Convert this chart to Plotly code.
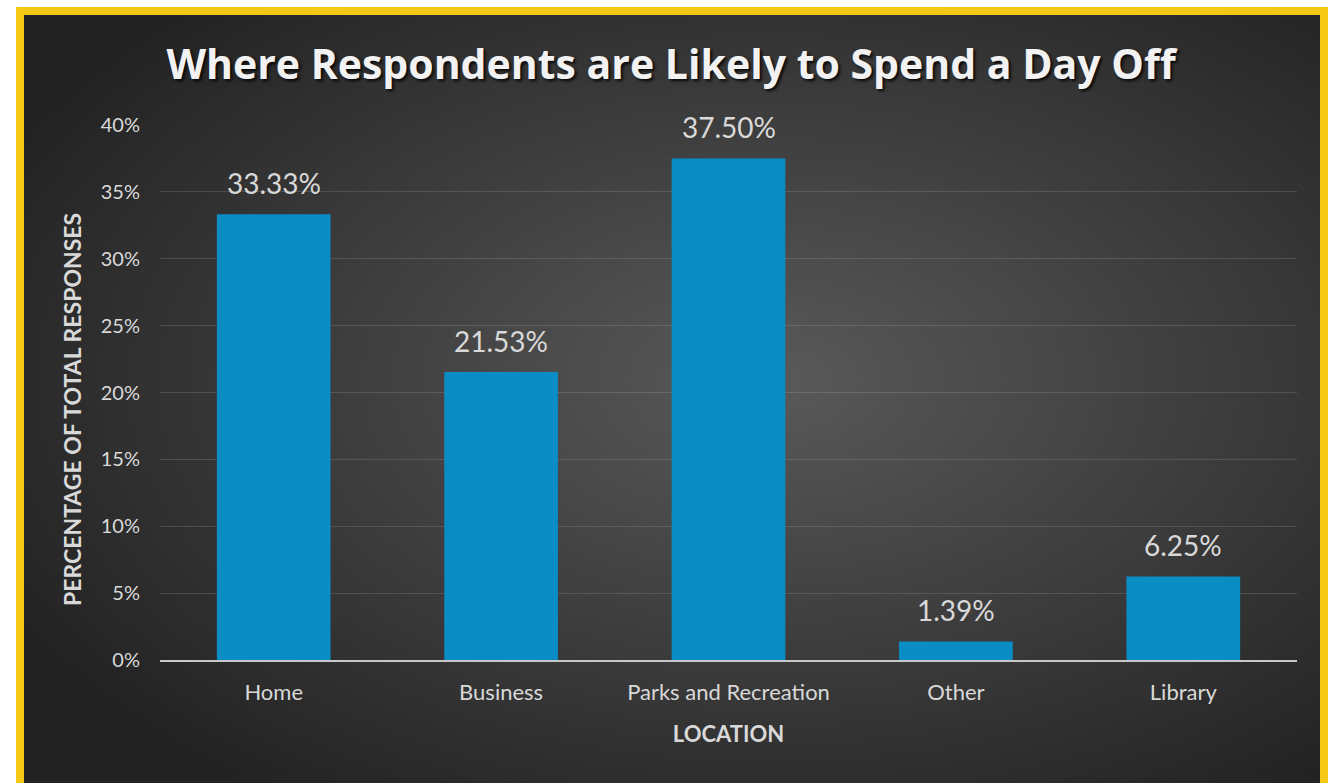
import base64
import struct
import zlib

import numpy as np
import plotly.graph_objects as go

# ---- data -------------------------------------------------------------
locations = ["Home", "Business", "Parks and Recreation", "Other", "Library"]
shares = [0.3333, 0.2153, 0.3750, 0.0139, 0.0625]
y_ticks = [0, 0.05, 0.10, 0.15, 0.20, 0.25, 0.30, 0.35, 0.40]

W, H = 1339, 783
FONT = "Lato"
TITLE_FONT = "Open Sans"
TEXT = "#d9d9d9"


def px_x(p):
    return p / W


def px_y(p):
    return 1 - p / H


def encode_png(rgb):
    h, w, _ = rgb.shape
    raw = b"".join(b"\x00" + rgb[r].tobytes() for r in range(h))

    def chunk(tag, body):
        crc = zlib.crc32(tag + body) & 0xFFFFFFFF
        return struct.pack(">I", len(body)) + tag + body + struct.pack(">I", crc)

    return (b"\x89PNG\r\n\x1a\n"
            + chunk(b"IHDR", struct.pack(">IIBBBBB", w, h, 8, 2, 0, 0, 0))
            + chunk(b"IDAT", zlib.compress(raw, 9))
            + chunk(b"IEND", b""))


# dark radial backdrop inside the frame
bx0, by0, bx1, by1 = 24, 15, 1320, 783
bw, bh = bx1 - bx0, by1 - by0
gx, gy = np.meshgrid(np.arange(bw), np.arange(bh))
cx, cy = 770 - bx0, 380 - by0
d = np.sqrt(((gx - cx) / (bw / 2)) ** 2 + ((gy - cy) / (bh / 2)) ** 2) / 1.35
d = np.clip(d, 0, 1)
val = (90 - 56 * d ** 1.0).astype(np.uint8)
rgb = np.stack([val, val, val], axis=-1)
bg_uri = "data:image/png;base64," + base64.b64encode(encode_png(rgb)).decode()

fig = go.Figure()

fig.add_trace(go.Bar(
    x=locations,
    y=shares,
    marker=dict(color="#0a8cc4", line=dict(width=0)),
    width=0.5,
    hoverinfo="x+y",
))

# value labels above each bar
for loc, v in zip(locations, shares):
    fig.add_annotation(
        x=loc, y=v, xref="x", yref="y",
        text=f"{v * 100:.2f}%",
        showarrow=False, yanchor="bottom", yshift=12,
        font=dict(family=FONT, size=28, color=TEXT),
    )

# vertical axis title
fig.add_annotation(
    x=px_x(72), y=px_y(410), xref="paper", yref="paper",
    text="<b>PERCENTAGE OF TOTAL RESPONSES</b>", textangle=-90,
    showarrow=False, xanchor="center", yanchor="middle",
    font=dict(family=FONT, size=23, color=TEXT),
)

fig.update_layout(
    width=W, height=H,
    margin=dict(l=0, r=0, t=0, b=0, autoexpand=False),
    paper_bgcolor="#ffffff",
    plot_bgcolor="rgba(0,0,0,0)",
    showlegend=False,
    title=dict(
        text="<b>Where Respondents are Likely to Spend a Day Off</b>",
        x=671 / W, xanchor="center",
        y=1 - 65 / H, yanchor="middle", yref="container",
        automargin=False,
        font=dict(family=TITLE_FONT, size=41, color="#f2f2f2",
                  shadow="2px 2px 3px rgba(0,0,0,0.85)"),
    ),
    xaxis=dict(
        domain=[px_x(160), px_x(1297)],
        automargin=False,
        showgrid=False,
        showline=True, linecolor="#c8c8c8", linewidth=2,
        ticks="", ticklabelstandoff=12,
        tickfont=dict(family=FONT, size=22, color=TEXT),
        title=dict(text="<b>LOCATION</b>", standoff=22,
                   font=dict(family=FONT, size=22, color=TEXT)),
    ),
    yaxis=dict(
        domain=[px_y(660), px_y(125)],
        automargin=False,
        range=[0, 0.40],
        tickvals=y_ticks,
        tickformat=".0%",
        showgrid=True, gridcolor="rgba(255,255,255,0.13)", gridwidth=1,
        zeroline=False, showline=False,
        ticks="", ticklabelstandoff=19,
        tickfont=dict(family=FONT, size=20, color=TEXT),
    ),
    images=[dict(
        source=bg_uri, xref="paper", yref="paper",
        x=px_x(bx0), y=px_y(by0), sizex=px_x(bw), sizey=bh / H,
        xanchor="left", yanchor="top", sizing="stretch", layer="below",
    )],
    shapes=[dict(
        type="rect", xref="paper", yref="paper",
        x0=px_x(20), x1=px_x(1324), y0=px_y(820), y1=px_y(11),
        line=dict(color="#f5c816", width=8), fillcolor="rgba(0,0,0,0)",
    )],
)

fig.write_html("out.html")
